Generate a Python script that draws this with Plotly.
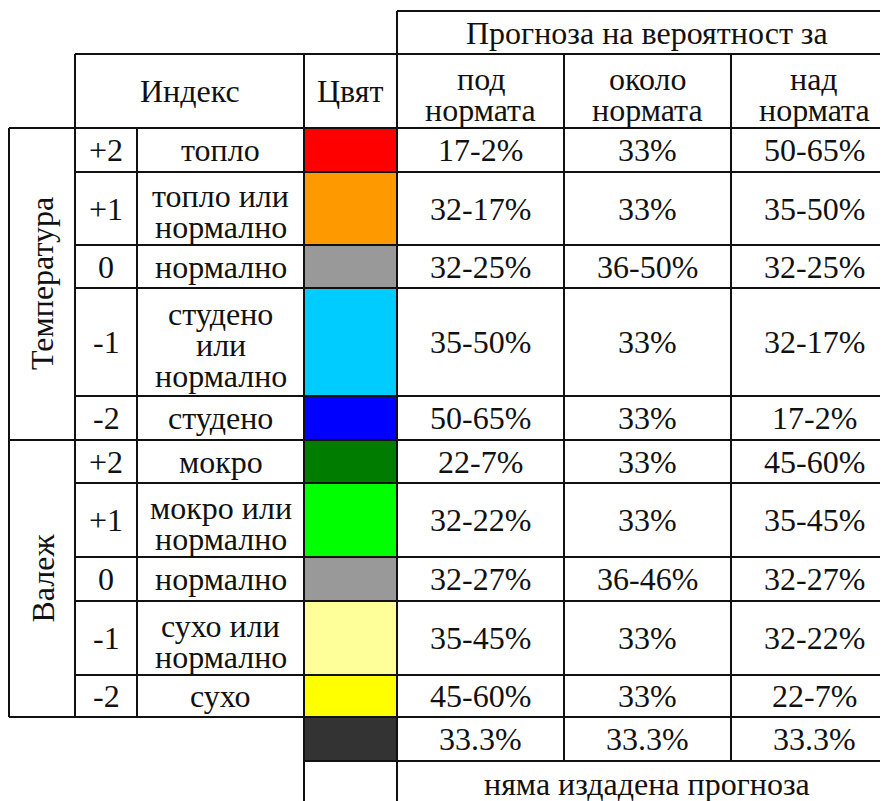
import plotly.graph_objects as go

# ---------------- data ----------------
header_top = "Прогноза на вероятност за"
header_index = "Индекс"
header_color = "Цвят"
header_cols = ["под<br>нормата", "около<br>нормата", "над<br>нормата"]

group_names = ["Температура", "Валеж"]

temp_index = ["+2", "+1", "0", "-1", "-2"]
temp_labels = ["топло", "топло или<br>нормално", "нормално", "студено<br>или<br>нормално", "студено"]
temp_colors = ["#FF0000", "#FF9900", "#999999", "#00CCFF", "#0000FF"]
temp_below = ["17-2%", "32-17%", "32-25%", "35-50%", "50-65%"]
temp_near = ["33%", "33%", "36-50%", "33%", "33%"]
temp_above = ["50-65%", "35-50%", "32-25%", "32-17%", "17-2%"]

prec_index = ["+2", "+1", "0", "-1", "-2"]
prec_labels = ["мокро", "мокро или<br>нормално", "нормално", "сухо или<br>нормално", "сухо"]
prec_colors = ["#007D00", "#00FF00", "#999999", "#FFFF99", "#FFFF00"]
prec_below = ["22-7%", "32-22%", "32-27%", "35-45%", "45-60%"]
prec_near = ["33%", "33%", "36-46%", "33%", "33%"]
prec_above = ["45-60%", "35-45%", "32-27%", "32-22%", "22-7%"]

clim_color = "#333333"
clim_values = ["33.3%", "33.3%", "33.3%"]

none_color = "#FFFFFF"
none_text = "няма издадена прогноза"

# ---------------- layout geometry (page pixels) ----------------
W, H = 888, 801
PAD = 8  # default page body margin
col_x = [9, 75, 137, 304, 397, 564, 731, 897]   # column edges
y_top, y_h2, y_body = 11, 54, 128
temp_rows = [128, 172, 245, 288, 396, 440]
prec_rows = [440, 483, 557, 601, 675, 717]
clim_rows = [717, 761]
none_rows = [761, 806]

FONT = "Liberation Serif"
FS = 32
LS = 31  # line spacing
TXT = "#111111"
LINE = "#111111"
LW = 2

shapes = []
ann = []


def hline(y, x0, x1):
    shapes.append(dict(type="line", xref="x", yref="y", x0=x0, x1=x1, y0=y, y1=y,
                       line=dict(color=LINE, width=LW), layer="above"))


def vline(x, y0, y1):
    shapes.append(dict(type="line", xref="x", yref="y", x0=x, x1=x, y0=y0, y1=y1,
                       line=dict(color=LINE, width=LW), layer="above"))


def rect(x0, x1, y0, y1, color):
    shapes.append(dict(type="rect", xref="x", yref="y", x0=x0, x1=x1, y0=y0, y1=y1,
                       fillcolor=color, line=dict(width=0), layer="below"))


def text(s, x0, x1, y0, y1, angle=0, dy=0):
    lines = s.split("<br>")
    n = len(lines)
    xm = (x0 + x1) / 2
    ym = (y0 + y1) / 2
    for i, ln in enumerate(lines):
        off = (i - (n - 1) / 2) * LS + (dy if n > 1 else 0)
        ann.append(dict(x=xm, y=ym + off, xref="x", yref="y", text=ln, showarrow=False,
                        xanchor="center", yanchor="middle", textangle=angle,
                        font=dict(family=FONT, size=FS, color=TXT)))


# headers
text(header_top, col_x[4], col_x[7], y_top, y_h2)
text(header_index, col_x[1], col_x[3], y_h2, y_body)
text(header_color, col_x[3], col_x[4], y_h2, y_body)
for j, h in enumerate(header_cols):
    text(h, col_x[4 + j], col_x[5 + j], y_h2, y_body, dy=3)

# body groups
groups = [
    (group_names[0], temp_rows, temp_index, temp_labels, temp_colors, temp_below, temp_near, temp_above),
    (group_names[1], prec_rows, prec_index, prec_labels, prec_colors, prec_below, prec_near, prec_above),
]
for name, rows, idx, labels, colors, below, near, above in groups:
    ann.append(dict(x=(col_x[0] + col_x[1]) / 2, y=(rows[0] + rows[-1]) / 2, xref="x", yref="y",
                    text=name, showarrow=False, textangle=-90, xanchor="center", yanchor="middle",
                    font=dict(family=FONT, size=FS, color=TXT)))
    for r in range(len(idx)):
        y0, y1 = rows[r], rows[r + 1]
        rect(col_x[3], col_x[4], y0, y1, colors[r])
        text(idx[r], col_x[1], col_x[2], y0, y1)
        text(labels[r], col_x[2], col_x[3], y0, y1, dy=3)
        for j, vals in enumerate([below, near, above]):
            text(vals[r], col_x[4 + j], col_x[5 + j], y0, y1)
        if r > 0:
            hline(y0, col_x[1], col_x[7])

# climatology row
rect(col_x[3], col_x[4], clim_rows[0], clim_rows[1], clim_color)
for j, v in enumerate(clim_values):
    text(v, col_x[4 + j], col_x[5 + j], clim_rows[0], clim_rows[1])
# no-forecast row
rect(col_x[3], col_x[4], none_rows[0], none_rows[1], none_color)
text(none_text, col_x[4], col_x[7], none_rows[0], none_rows[1])

# grid lines
hline(y_top, col_x[4], col_x[7])
hline(y_h2, col_x[1], col_x[7])
hline(y_body, col_x[0], col_x[7])
hline(temp_rows[-1], col_x[0], col_x[7])
hline(prec_rows[-1], col_x[0], col_x[7])
hline(clim_rows[1], col_x[3], col_x[7])
hline(none_rows[1], col_x[3], col_x[7])

vline(col_x[0], y_body, prec_rows[-1])
vline(col_x[1], y_h2, prec_rows[-1])
vline(col_x[2], y_body, prec_rows[-1])
vline(col_x[3], y_h2, none_rows[1])
vline(col_x[4], y_top, none_rows[1])
vline(col_x[5], y_h2, clim_rows[1])
vline(col_x[6], y_h2, clim_rows[1])
vline(col_x[7], y_top, none_rows[1])

fig = go.Figure()
fig.update_layout(
    width=W - PAD, height=H - PAD,
    margin=dict(l=0, r=0, t=0, b=0),
    paper_bgcolor="white", plot_bgcolor="white",
    xaxis=dict(range=[PAD, W], visible=False, fixedrange=True),
    yaxis=dict(range=[H, PAD], visible=False, fixedrange=True),
    shapes=shapes, annotations=ann, showlegend=False,
)
fig.write_html("out.html")
